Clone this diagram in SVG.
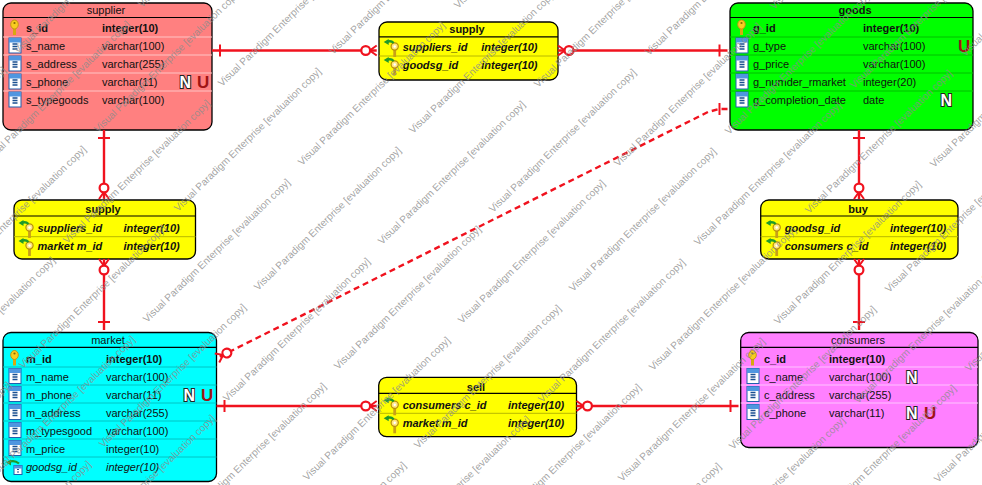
<svg xmlns="http://www.w3.org/2000/svg" width="982" height="485" viewBox="0 0 982 485">
<style>
text{font-family:"Liberation Sans",Arial,sans-serif;font-size:11px;fill:#111}
.t{text-anchor:middle}
.b{font-weight:bold}
.bi{font-weight:bold;font-style:italic}
.i{font-style:italic}
.box{stroke:#000;stroke-width:1.3}
.hd{stroke:#000;stroke-width:1.2}
.sp{stroke-width:1}
.n{font-size:16px;font-weight:bold;fill:#fff;stroke:#222;stroke-width:2;paint-order:stroke}
.u{font-size:17px;font-weight:bold;fill:#a01414}
.c{fill:none;stroke:#f0121e;stroke-width:2.400}
.wm text{font-size:10.100px;fill:#8c8c8c;fill-opacity:.8}
</style>
<defs>
<marker id="one" markerUnits="userSpaceOnUse" markerWidth="12" markerHeight="16" refX="0" refY="8" orient="auto"><path d="M8 2V14" stroke="#f0121e" stroke-width="2" fill="none"/></marker>
<marker id="zm" markerUnits="userSpaceOnUse" markerWidth="20" markerHeight="16" refX="17" refY="8" orient="auto"><path d="M10 8L17 3M10 8L17 13" stroke="#f0121e" stroke-width="2" fill="none"/><circle cx="6" cy="8" r="4.400" fill="#fff" stroke="#f0121e" stroke-width="2.200"/></marker>
<g id="key"><path d="M-11.500 -4V3" stroke="#d8a810" stroke-width="3"/><ellipse cx="-11.500" cy="-7.500" rx="3.800" ry="4.500" fill="#f8cc20" stroke="#c09010" stroke-width=".9"/><circle cx="-11.500" cy="-9" r="1.100" fill="#8a6a00"/></g>
<g id="col"><rect x="-17" y="-12" width="12" height="15" fill="#fff" stroke="#1f5fb0"/><rect x="-17" y="-12" width="12" height="4.500" fill="#4f96e0"/><path d="M-13.500 -6H-8.500M-13.500 -3.500H-8.500M-13.500 -1H-8.500" stroke="#1a4f90" stroke-width="1.300"/></g>
<g id="fk"><path d="M-8 -4V6" stroke="#c8a018" stroke-width="2.800"/><circle cx="-8" cy="-4.500" r="3.600" fill="#ffe680" stroke="#b8900a" stroke-width="1.200"/><circle cx="-8" cy="-4.500" r="1.200" fill="#fff"/><path d="M-9 -8Q-12 -11 -16 -9" fill="none" stroke="#1f9a2a" stroke-width="2.400"/><path d="M-19 -9L-14 -12V-6Z" fill="#1f9a2a"/></g>
<g id="fkc"><rect x="-12" y="-5" width="8" height="9" fill="#fff" stroke="#1f5fb0"/><rect x="-12" y="-5" width="8" height="3" fill="#4f96e0"/><path d="M-9 -1H-7M-9 1.500H-7" stroke="#1a4f90"/><path d="M-7 -7Q-12 -11 -18 -8" fill="none" stroke="#1f9a2a" stroke-width="2.200"/><path d="M-20 -8L-15 -11V-5Z" fill="#1f9a2a"/></g>
</defs>
<rect width="982" height="485" fill="#fff"/>

<g id="supplier">
<rect class="box" x="3" y="3" width="209" height="127" rx="8" fill="#ff8080"/>
<path class="hd" d="M3 17.500H212"/>
<path class="sp" stroke="#ffc4c4" d="M3 37H212M3 55H212M3 73H212M3 91H212"/>
<text class="t" x="106" y="14">supplier</text>
<use href="#key" x="26" y="32"/><text class="b" x="26" y="32">s_id</text><text class="b" x="102" y="32">integer(10)</text>
<use href="#col" x="26" y="50"/><text x="26" y="50">s_name</text><text x="102" y="50">varchar(100)</text>
<use href="#col" x="26" y="68"/><text x="26" y="68">s_address</text><text x="102" y="68">varchar(255)</text>
<use href="#col" x="26" y="86"/><text x="26" y="86">s_phone</text><text x="102" y="86">varchar(11)</text>
<use href="#col" x="26" y="104"/><text x="26" y="104">s_typegoods</text><text x="102" y="104">varchar(100)</text>
<text class="n" x="179.500" y="88">N</text><text class="u" x="197" y="88">U</text>
</g>

<g id="supply-top">
<rect class="box" x="379" y="22" width="179" height="58" rx="8" fill="#ffff00"/>
<path class="hd" d="M379 36.800H558"/>
<path class="sp" stroke="#b8b800" d="M379 56H558"/>
<text class="t b" x="467" y="33">supply</text>
<use href="#fk" x="402.700" y="51"/><text class="bi" x="402.700" y="51">suppliers_id</text><text class="bi" x="481.300" y="51">integer(10)</text>
<use href="#fk" x="402.700" y="69"/><text class="bi" x="402.700" y="69">goodsg_id</text><text class="bi" x="481.300" y="69">integer(10)</text>
</g>

<g id="goods">
<rect class="box" x="730" y="3" width="243" height="127" rx="8" fill="#00ff00"/>
<path class="hd" d="M730 17.500H973"/>
<path class="sp" stroke="#00c000" d="M730 37H973M730 55H973M730 73H973M730 91H973"/>
<text class="t b" x="855" y="14">goods</text>
<use href="#key" x="753" y="32"/><text class="b" x="753" y="32">g_id</text><text class="b" x="863" y="32">integer(10)</text>
<use href="#col" x="753" y="50"/><text x="753" y="50">g_type</text><text x="863" y="50">varchar(100)</text>
<use href="#col" x="753" y="68"/><text x="753" y="68">g_price</text><text x="863" y="68">varchar(100)</text>
<use href="#col" x="753" y="86"/><text x="753" y="86">g_numder_rmarket</text><text x="863" y="86">integer(20)</text>
<use href="#col" x="753" y="104"/><text x="753" y="104">g_completion_date</text><text x="863" y="104">date</text>
<text class="u" x="958" y="52">U</text><text class="n" x="940.500" y="106">N</text>
</g>

<g id="supply-left">
<rect class="box" x="14" y="200" width="181.500" height="59" rx="8" fill="#ffff00"/>
<path class="hd" d="M14 216H195.500"/>
<path class="sp" stroke="#b8b800" d="M14 236.700H195.500"/>
<text class="t b" x="103" y="213">supply</text>
<use href="#fk" x="37.500" y="232"/><text class="bi" x="37.500" y="232">suppliers_id</text><text class="bi" x="123.500" y="232">integer(10)</text>
<use href="#fk" x="37.500" y="250"/><text class="bi" x="37.500" y="250">market m_id</text><text class="bi" x="123.500" y="250">integer(10)</text>
</g>

<g id="buy">
<rect class="box" x="760.700" y="200" width="197.300" height="59" rx="8" fill="#ffff00"/>
<path class="hd" d="M760.700 216H958"/>
<path class="sp" stroke="#b8b800" d="M760.700 236.700H958"/>
<text class="t b" x="858" y="213">buy</text>
<use href="#fk" x="784.700" y="232"/><text class="bi" x="784.700" y="232">goodsg_id</text><text class="bi" x="890" y="232">integer(10)</text>
<use href="#fk" x="784.700" y="250"/><text class="bi" x="784.700" y="250">consumers c_id</text><text class="bi" x="890" y="250">integer(10)</text>
</g>

<g id="market">
<rect class="box" x="3" y="332.500" width="213.500" height="149" rx="8" fill="#00ffff"/>
<path class="hd" d="M3 347.300H216.500"/>
<path class="sp" stroke="#00c4c4" d="M3 367H216.500M3 385H216.500M3 403H216.500M3 421H216.500M3 439H216.500M3 457H216.500"/>
<text class="t" x="108" y="344">market</text>
<use href="#key" x="26" y="362.500"/><text class="b" x="26" y="362.500">m_id</text><text class="b" x="106" y="362.500">integer(10)</text>
<use href="#col" x="26" y="380.500"/><text x="26" y="380.500">m_name</text><text x="106" y="380.500">varchar(100)</text>
<use href="#col" x="26" y="398.500"/><text x="26" y="398.500">m_phone</text><text x="106" y="398.500">varchar(11)</text>
<use href="#col" x="26" y="416.500"/><text x="26" y="416.500">m_address</text><text x="106" y="416.500">varchar(255)</text>
<use href="#col" x="26" y="434.500"/><text x="26" y="434.500">m_typesgood</text><text x="106" y="434.500">varchar(100)</text>
<use href="#col" x="26" y="452.500"/><text x="26" y="452.500">m_price</text><text x="106" y="452.500">integer(10)</text>
<use href="#fkc" x="26" y="470.500"/><text class="i" x="26" y="470.500">goodsg_id</text><text class="i" x="106" y="470.500">integer(10)</text>
<text class="n" x="183.500" y="400.500">N</text><text class="u" x="201" y="400.500">U</text>
</g>

<g id="sell">
<rect class="box" x="378.700" y="377.300" width="197.800" height="59.400" rx="8" fill="#ffff00"/>
<path class="hd" d="M378.700 393.300H576.500"/>
<path class="sp" stroke="#b8b800" d="M378.700 413.300H576.500"/>
<text class="t b" x="476" y="390.500">sell</text>
<use href="#fk" x="402.700" y="409.300"/><text class="bi" x="402.700" y="409.300">consumers c_id</text><text class="bi" x="508" y="409.300">integer(10)</text>
<use href="#fk" x="402.700" y="427.300"/><text class="bi" x="402.700" y="427.300">market m_id</text><text class="bi" x="508" y="427.300">integer(10)</text>
</g>

<g id="consumers">
<rect class="box" x="740.700" y="332.500" width="237.300" height="115" rx="8" fill="#ff80ff"/>
<path class="hd" d="M740.700 347.300H978"/>
<path class="sp" stroke="#ffc4ff" d="M740.700 367H978M740.700 385H978M740.700 403H978"/>
<text class="t" x="858" y="344">consumers</text>
<use href="#key" x="764" y="362.500"/><text class="b" x="764" y="362.500">c_id</text><text class="b" x="829" y="362.500">integer(10)</text>
<use href="#col" x="764" y="380.500"/><text x="764" y="380.500">c_name</text><text x="829" y="380.500">varchar(100)</text>
<use href="#col" x="764" y="398.500"/><text x="764" y="398.500">c_address</text><text x="829" y="398.500">varchar(255)</text>
<use href="#col" x="764" y="416.500"/><text x="764" y="416.500">c_phone</text><text x="829" y="416.500">varchar(11)</text>
<text class="n" x="906" y="382.500">N</text><text class="n" x="906" y="418.500">N</text><text class="u" x="924" y="418.500">U</text>
</g>

<g id="connectors">
<path class="c" marker-start="url(#one)" marker-end="url(#zm)" d="M212 50.500H376.700"/>
<path class="c" marker-start="url(#one)" marker-end="url(#zm)" d="M727.500 50.500H558"/>
<path class="c" marker-start="url(#one)" marker-end="url(#zm)" d="M104 130V199"/>
<path class="c" marker-start="url(#one)" marker-end="url(#zm)" d="M104 330V259"/>
<path class="c" marker-start="url(#one)" marker-end="url(#zm)" d="M859 130V199"/>
<path class="c" marker-start="url(#one)" marker-end="url(#zm)" d="M859 330V259"/>
<path class="c" marker-start="url(#one)" marker-end="url(#zm)" d="M216.500 406H376.700"/>
<path class="c" marker-start="url(#one)" marker-end="url(#zm)" d="M738.500 406H576.500"/>
<path class="c" stroke-dasharray="6 4" marker-start="url(#one)" marker-end="url(#zm)" d="M727.500 109H719L708 112L217 358"/>
</g>

<g id="watermark" class="wm">
<text transform="translate(18 54) rotate(-44.200)">Visual Paradigm Enterprise [evaluation copy]</text>
<text transform="translate(98 133) rotate(-44.200)">Visual Paradigm Enterprise [evaluation copy]</text>
<text transform="translate(178 212) rotate(-44.200)">Visual Paradigm Enterprise [evaluation copy]</text>
<text transform="translate(258 291) rotate(-44.200)">Visual Paradigm Enterprise [evaluation copy]</text>
<text transform="translate(338 370) rotate(-44.200)">Visual Paradigm Enterprise [evaluation copy]</text>
<text transform="translate(418 449) rotate(-44.200)">Visual Paradigm Enterprise [evaluation copy]</text>
<text transform="translate(498 528) rotate(-44.200)">Visual Paradigm Enterprise [evaluation copy]</text>
<text transform="translate(578 607) rotate(-44.200)">Visual Paradigm Enterprise [evaluation copy]</text>
<text transform="translate(142 8) rotate(-44.200)">Visual Paradigm Enterprise [evaluation copy]</text>
<text transform="translate(222 87) rotate(-44.200)">Visual Paradigm Enterprise [evaluation copy]</text>
<text transform="translate(302 166) rotate(-44.200)">Visual Paradigm Enterprise [evaluation copy]</text>
<text transform="translate(382 245) rotate(-44.200)">Visual Paradigm Enterprise [evaluation copy]</text>
<text transform="translate(462 324) rotate(-44.200)">Visual Paradigm Enterprise [evaluation copy]</text>
<text transform="translate(542 403) rotate(-44.200)">Visual Paradigm Enterprise [evaluation copy]</text>
<text transform="translate(622 482) rotate(-44.200)">Visual Paradigm Enterprise [evaluation copy]</text>
<text transform="translate(702 561) rotate(-44.200)">Visual Paradigm Enterprise [evaluation copy]</text>
<text transform="translate(333 55) rotate(-44.200)">Visual Paradigm Enterprise [evaluation copy]</text>
<text transform="translate(413 134) rotate(-44.200)">Visual Paradigm Enterprise [evaluation copy]</text>
<text transform="translate(493 213) rotate(-44.200)">Visual Paradigm Enterprise [evaluation copy]</text>
<text transform="translate(573 292) rotate(-44.200)">Visual Paradigm Enterprise [evaluation copy]</text>
<text transform="translate(653 371) rotate(-44.200)">Visual Paradigm Enterprise [evaluation copy]</text>
<text transform="translate(733 450) rotate(-44.200)">Visual Paradigm Enterprise [evaluation copy]</text>
<text transform="translate(813 529) rotate(-44.200)">Visual Paradigm Enterprise [evaluation copy]</text>
<text transform="translate(893 608) rotate(-44.200)">Visual Paradigm Enterprise [evaluation copy]</text>
<text transform="translate(458 9) rotate(-44.200)">Visual Paradigm Enterprise [evaluation copy]</text>
<text transform="translate(538 88) rotate(-44.200)">Visual Paradigm Enterprise [evaluation copy]</text>
<text transform="translate(618 167) rotate(-44.200)">Visual Paradigm Enterprise [evaluation copy]</text>
<text transform="translate(698 246) rotate(-44.200)">Visual Paradigm Enterprise [evaluation copy]</text>
<text transform="translate(778 325) rotate(-44.200)">Visual Paradigm Enterprise [evaluation copy]</text>
<text transform="translate(858 404) rotate(-44.200)">Visual Paradigm Enterprise [evaluation copy]</text>
<text transform="translate(938 483) rotate(-44.200)">Visual Paradigm Enterprise [evaluation copy]</text>
<text transform="translate(649 56) rotate(-44.200)">Visual Paradigm Enterprise [evaluation copy]</text>
<text transform="translate(729 135) rotate(-44.200)">Visual Paradigm Enterprise [evaluation copy]</text>
<text transform="translate(809 214) rotate(-44.200)">Visual Paradigm Enterprise [evaluation copy]</text>
<text transform="translate(889 293) rotate(-44.200)">Visual Paradigm Enterprise [evaluation copy]</text>
<text transform="translate(969 372) rotate(-44.200)">Visual Paradigm Enterprise [evaluation copy]</text>
<text transform="translate(774 10) rotate(-44.200)">Visual Paradigm Enterprise [evaluation copy]</text>
<text transform="translate(854 89) rotate(-44.200)">Visual Paradigm Enterprise [evaluation copy]</text>
<text transform="translate(934 168) rotate(-44.200)">Visual Paradigm Enterprise [evaluation copy]</text>
<text transform="translate(965 57) rotate(-44.200)">Visual Paradigm Enterprise [evaluation copy]</text>
<text transform="translate(-93 86) rotate(-44.200)">Visual Paradigm Enterprise [evaluation copy]</text>
<text transform="translate(-13 165) rotate(-44.200)">Visual Paradigm Enterprise [evaluation copy]</text>
<text transform="translate(67 244) rotate(-44.200)">Visual Paradigm Enterprise [evaluation copy]</text>
<text transform="translate(147 323) rotate(-44.200)">Visual Paradigm Enterprise [evaluation copy]</text>
<text transform="translate(227 402) rotate(-44.200)">Visual Paradigm Enterprise [evaluation copy]</text>
<text transform="translate(307 481) rotate(-44.200)">Visual Paradigm Enterprise [evaluation copy]</text>
<text transform="translate(387 560) rotate(-44.200)">Visual Paradigm Enterprise [evaluation copy]</text>
<text transform="translate(-137 211) rotate(-44.200)">Visual Paradigm Enterprise [evaluation copy]</text>
<text transform="translate(-57 290) rotate(-44.200)">Visual Paradigm Enterprise [evaluation copy]</text>
<text transform="translate(23 369) rotate(-44.200)">Visual Paradigm Enterprise [evaluation copy]</text>
<text transform="translate(103 448) rotate(-44.200)">Visual Paradigm Enterprise [evaluation copy]</text>
<text transform="translate(183 527) rotate(-44.200)">Visual Paradigm Enterprise [evaluation copy]</text>
<text transform="translate(263 606) rotate(-44.200)">Visual Paradigm Enterprise [evaluation copy]</text>
<text transform="translate(-88 401) rotate(-44.200)">Visual Paradigm Enterprise [evaluation copy]</text>
<text transform="translate(-8 480) rotate(-44.200)">Visual Paradigm Enterprise [evaluation copy]</text>
<text transform="translate(72 559) rotate(-44.200)">Visual Paradigm Enterprise [evaluation copy]</text>
<text transform="translate(-132 526) rotate(-44.200)">Visual Paradigm Enterprise [evaluation copy]</text>
<text transform="translate(-52 605) rotate(-44.200)">Visual Paradigm Enterprise [evaluation copy]</text>
</g>
</svg>
